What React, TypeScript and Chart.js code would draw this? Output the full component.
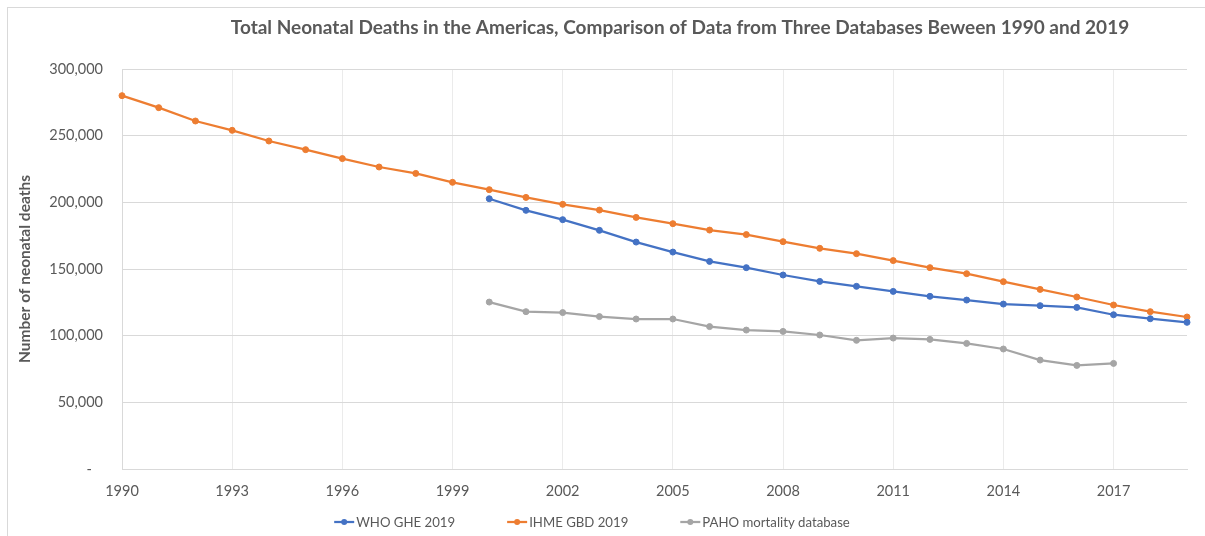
import React, { useEffect, useRef } from "react";
import { Chart, registerables } from "chart.js";

Chart.register(...registerables);

const FONT = "Lato, 'Open Sans', 'DejaVu Sans', sans-serif";
const TEXT_COLOR = "#595959";

const TITLE = "Total Neonatal Deaths in the Americas, Comparison of Data from Three Databases Beween 1990 and 2019";
const Y_AXIS_TITLE = "Number of neonatal deaths";

const years = [
  "1990", "1991", "1992", "1993", "1994", "1995", "1996", "1997", "1998", "1999",
  "2000", "2001", "2002", "2003", "2004", "2005", "2006", "2007", "2008", "2009",
  "2010", "2011", "2012", "2013", "2014", "2015", "2016", "2017", "2018", "2019",
];

const whoGhe2019 = [
  null, null, null, null, null, null, null, null, null, null,
  202700, 194000, 187000, 179000, 170200, 162700, 155700, 151000, 145500, 140700,
  137000, 133200, 129500, 126700, 123700, 122500, 121200, 115700, 112700, 110000,
];

const ihmeGbd2019 = [
  280000, 271000, 261000, 254000, 246000, 239500, 232800, 226500, 221700, 215000,
  209500, 203700, 198500, 194200, 188700, 184000, 179200, 175800, 170500, 165500,
  161500, 156300, 151000, 146500, 140500, 134700, 129000, 123000, 118000, 114000,
];

const pahoMortality = [
  null, null, null, null, null, null, null, null, null, null,
  125200, 118000, 117300, 114300, 112500, 112500, 106800, 104200, 103200, 100500,
  96500, 98200, 97200, 94200, 90000, 81700, 77700, 79200, null, null,
];

const seriesNames = ["WHO GHE 2019", "IHME GBD 2019", "PAHO mortality database"];
const seriesColors = ["#4472C4", "#ED7D31", "#A5A5A5"];

const yTicks = [0, 50000, 100000, 150000, 200000, 250000, 300000];

// Title drawn centred over the chart body
const titlePlugin = {
  id: "chartTitle",
  afterDraw(chart: any) {
    const ctx = chart.ctx;
    ctx.save();
    ctx.font = `bold 19px ${FONT}`;
    ctx.fillStyle = TEXT_COLOR;
    ctx.textAlign = "center";
    ctx.textBaseline = "middle";
    ctx.fillText(TITLE, 672, 20);
    ctx.restore();
  },
};

// Line-and-marker legend along the bottom
const legendPlugin = {
  id: "lineMarkerLegend",
  afterDraw(chart: any) {
    const ctx = chart.ctx;
    const sets = chart.data.datasets;
    ctx.save();
    ctx.font = `13.2px ${FONT}`;
    ctx.textBaseline = "middle";
    ctx.textAlign = "left";
    const lineLen = 20;
    const textGap = 2;
    const itemGap = 52;
    const widths = sets.map((d: any) => lineLen + textGap + ctx.measureText(d.label).width);
    const total = widths.reduce((a: number, b: number) => a + b, 0) + itemGap * (sets.length - 1);
    let x = 584 - total / 2;
    const y = 514;
    sets.forEach((d: any, i: number) => {
      ctx.strokeStyle = d.borderColor;
      ctx.lineWidth = 2.25;
      ctx.beginPath();
      ctx.moveTo(x, y);
      ctx.lineTo(x + lineLen, y);
      ctx.stroke();
      ctx.fillStyle = d.borderColor;
      ctx.beginPath();
      ctx.arc(x + lineLen / 2, y, 3, 0, Math.PI * 2);
      ctx.fill();
      ctx.fillStyle = TEXT_COLOR;
      ctx.fillText(d.label, x + lineLen + textGap, y + 1);
      x += widths[i] + itemGap;
    });
    ctx.restore();
  },
};

export default function App() {
  const canvasRef = useRef<HTMLCanvasElement | null>(null);

  useEffect(() => {
    if (!canvasRef.current) return;
    const values = [whoGhe2019, ihmeGbd2019, pahoMortality];
    const chart = new Chart(canvasRef.current, {
      type: "line",
      data: {
        labels: years,
        datasets: values.map((data, i) => ({
          label: seriesNames[i],
          data,
          borderColor: seriesColors[i],
          backgroundColor: seriesColors[i],
          pointBackgroundColor: seriesColors[i],
          pointBorderColor: seriesColors[i],
          borderWidth: 2.25,
          pointRadius: 3,
          pointBorderWidth: 1,
          tension: 0,
          spanGaps: false,
          fill: false,
        })),
      },
      options: {
        animation: false,
        responsive: false,
        devicePixelRatio: 1,
        layout: { padding: { top: 61, right: 18, bottom: 0, left: 0 } },
        plugins: {
          legend: { display: false },
          title: { display: false },
          tooltip: { enabled: false },
        },
        scales: {
          x: {
            type: "category",
            offset: false,
            grid: {
              color: (c: any) => (c.index % 3 === 0 ? "#EBEBEB" : "rgba(0,0,0,0)"),
              lineWidth: 1,
              drawTicks: false,
            },
            border: { color: "#D9D9D9", width: 1 },
            ticks: {
              autoSkip: false,
              maxRotation: 0,
              minRotation: 0,
              padding: 14,
              color: TEXT_COLOR,
              font: { family: FONT, size: 14.5 },
              callback: (_v: any, i: number) => (i % 3 === 0 ? years[i] : ""),
            },
            afterFit: (s: any) => {
              s.height = 67;
            },
          },
          y: {
            min: yTicks[0],
            max: yTicks[yTicks.length - 1],
            afterBuildTicks: (s: any) => {
              s.ticks = yTicks.map((v) => ({ value: v }));
            },
            grid: { color: "#D9D9D9", lineWidth: 1, drawTicks: false },
            border: { color: "#D9D9D9", width: 1 },
            ticks: {
              padding: 19,
              color: TEXT_COLOR,
              font: { family: FONT, size: 14.5 },
              callback: (v: any) => (v === 0 ? "-   " : Number(v).toLocaleString("en-US")),
            },
            title: {
              display: true,
              text: Y_AXIS_TITLE,
              color: TEXT_COLOR,
              font: { family: FONT, size: 15.5, weight: "bold" },
              padding: { top: 8, bottom: 0 },
            },
            afterFit: (s: any) => {
              s.width = 114;
            },
          },
        },
      },
      plugins: [titlePlugin, legendPlugin],
    });
    return () => chart.destroy();
  }, []);

  return (
    <div
      style={{
        position: "absolute",
        left: 7,
        top: 7,
        width: 1198,
        height: 529,
        boxSizing: "border-box",
        borderTop: "1px solid #D9D9D9",
        borderLeft: "1px solid #D9D9D9",
        background: "#FFFFFF",
        overflow: "hidden",
      }}
    >
      <canvas ref={canvasRef} width={1197} height={528} style={{ display: "block" }} />
    </div>
  );
}
